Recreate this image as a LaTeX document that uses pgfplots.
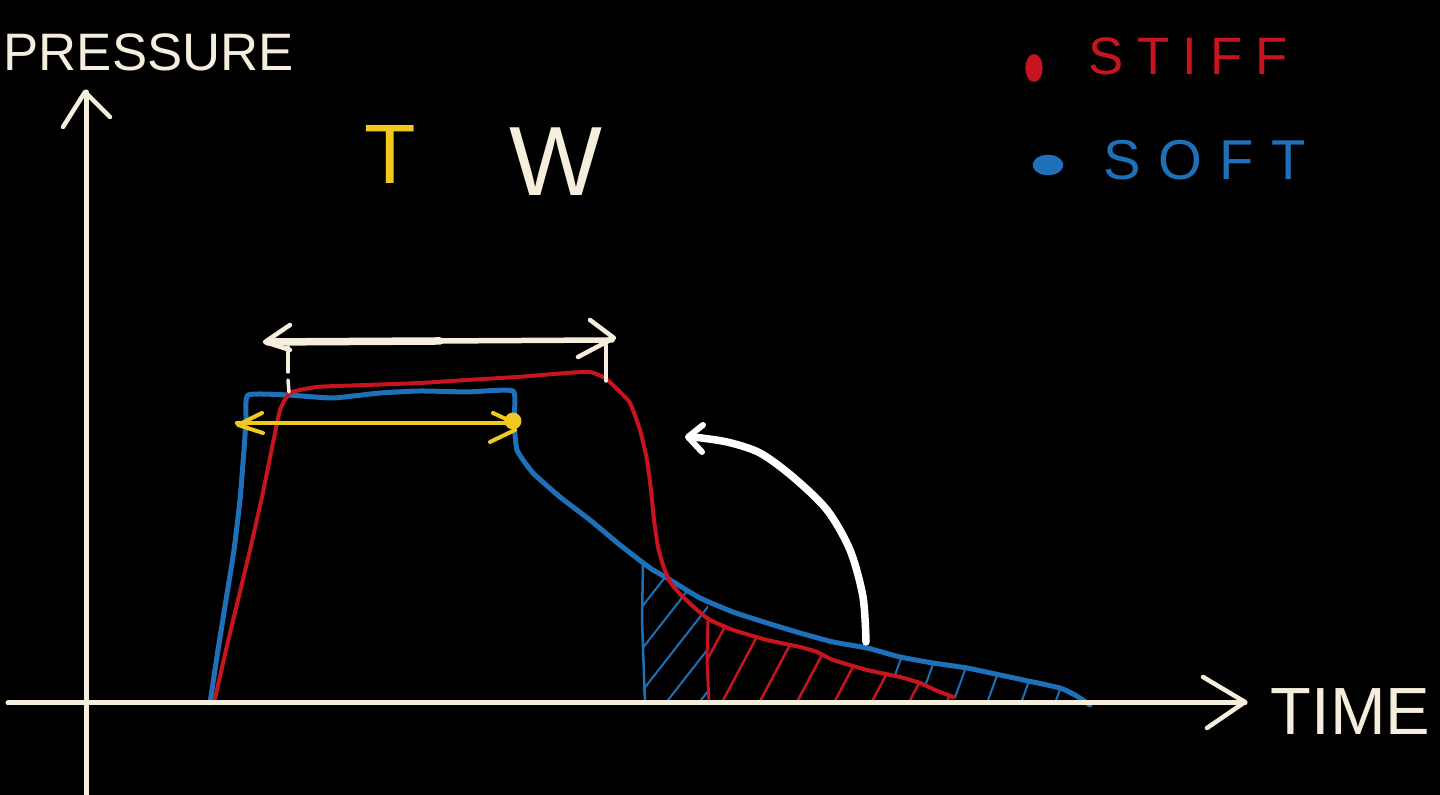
\documentclass[border=0pt]{standalone}
\usepackage{fontspec}
\setmainfont{Liberation Sans}
\usepackage{pgfplots}
\pgfplotsset{compat=1.18}
\usepgfplotslibrary{fillbetween}
\usetikzlibrary{patterns.meta}

\definecolor{cream}{RGB}{245,238,220}
\definecolor{stiffred}{RGB}{200,20,30}
\definecolor{softblue}{RGB}{30,112,185}
\definecolor{yel}{RGB}{240,200,30}

\begin{document}
\begin{tikzpicture}
\begin{axis}[at={(0,0)}, anchor=south west, scale only axis,
    width=14.4cm, height=7.95cm,
    xmin=0, xmax=1440, ymin=0, ymax=795, y dir=reverse,
    axis line style={draw=none}, ticks=none,
    axis background/.style={fill=black},
    clip=false,
    every axis plot/.append style={line cap=round, line join=round}]

% base line for the hatched areas
\addplot[draw=none, name path=base] coordinates {(0,703) (1440,703)};

% soft (blue) curve
\addplot[softblue, line width=0.5mm, smooth, tension=0.3, name path=soft] coordinates {
    (210,703) (218,650) (226,600) (234,550) (240,500) (244,450) (246,420)
    (248,395) (287,395) (333,398) (380,393) (420,391) (467,392) (513,391)
    (514,420) (517,450) (533,473) (560,497) (590,520) (620,545) (650,568)
    (667,578) (700,598) (733,612) (767,623) (800,633) (833,642) (867,648)
    (900,657) (933,663) (967,668) (1000,675) (1033,682) (1060,688)
    (1075,695) (1090,705)};

% stiff (red) curve
\addplot[stiffred, line width=0.4mm, smooth, tension=0.3, name path=stiff] coordinates {
    (214,703) (226,650) (238,600) (250,550) (262,497) (273,443) (280,410)
    (290,393) (317,387) (367,385) (420,383) (467,380) (517,377) (567,373)
    (590,372) (605,378) (618,390) (630,403) (640,430) (647,460) (651,490)
    (654,520) (658,547) (663,565) (670,582) (680,594) (697,610) (710,620)
    (733,630) (767,640) (800,647) (817,652) (833,660) (867,670) (900,677)
    (920,683) (935,690) (953,697)};

\addplot[draw=none, name path=stiffb] coordinates {
    (880,673) (900,677) (920,683) (935,690) (953,697) (962,703) (1100,703)};

% hatched areas
\addplot[pattern={Lines[angle=52,distance=2.6mm,line width=0.2mm]},
    pattern color=softblue] fill between[of=soft and base, soft clip={domain=643:708}];
\addplot[pattern={Lines[angle=62,distance=3.3mm,line width=0.25mm]},
    pattern color=stiffred] fill between[of=stiff and base, soft clip={domain=708:953}];
\addplot[pattern={Lines[angle=70,distance=3.2mm,line width=0.2mm]},
    pattern color=softblue] fill between[of=soft and stiffb, soft clip={domain=880:1088}];

\addplot[softblue, line width=0.25mm] coordinates {(643,565) (642,620) (645,703)};
\addplot[stiffred, line width=0.3mm] coordinates {(708,618) (707,660) (709,703)};

% axes
\addplot[cream, line width=0.5mm] coordinates {(8,703) (1245,703)};
\addplot[cream, line width=0.45mm] coordinates {(1203,677) (1245,702) (1207,728)};
\addplot[cream, line width=0.5mm] coordinates {(86,795) (86,92)};
\addplot[cream, line width=0.45mm] coordinates {(63,127) (85,92) (110,117)};

% white width arrow
\addplot[cream, line width=0.75mm] coordinates {(268,342) (440,341)};
\addplot[cream, line width=0.55mm] coordinates {(440,341) (612,340)};
\addplot[cream, line width=0.45mm] coordinates {(290,325) (265,342) (290,350)};
\addplot[cream, line width=0.45mm] coordinates {(590,320) (614,338) (578,357)};
\addplot[cream, line width=0.35mm] coordinates {(288,347) (288,372)};
\addplot[cream, line width=0.35mm] coordinates {(288,380) (289,392)};
\addplot[cream, line width=0.35mm] coordinates {(606,345) (606,381)};

% yellow arrow
\addplot[yel, line width=0.45mm] coordinates {(237,423) (515,423)};
\addplot[yel, line width=0.4mm] coordinates {(262,413) (238,425) (263,433)};
\addplot[yel, line width=0.4mm] coordinates {(493,413) (508,420) (515,430) (490,442)};
\addplot[only marks, mark=*, mark size=2.2pt, yel] coordinates {(513,421)};

% curved white arrow
\addplot[white, line width=0.75mm, smooth] coordinates {
    (866,642) (863,597) (850,550) (827,510) (793,477) (760,453) (727,442) (693,437)};
\addplot[white, line width=0.6mm] coordinates {(703,425) (688,437) (702,452)};

% legend dots
\addplot[only marks, mark=*, mark size=3pt, stiffred,
    mark options={xscale=0.75, yscale=1.25}] coordinates {(1034,68)};
\addplot[only marks, mark=*, mark size=3.2pt, softblue,
    mark options={xscale=1.3, yscale=0.85, rotate=35}] coordinates {(1048,165)};

% texts
\node[anchor=west, inner sep=0pt, text=cream, font=\fontsize{15}{15}\selectfont]
    at (axis cs:3,52) {PRESSURE};
\node[anchor=west, inner sep=0pt, text=cream, font=\fontsize{19}{19}\selectfont]
    at (axis cs:1270,712) {TIME};
\node[anchor=west, inner sep=0pt, text=stiffred,
    font=\fontsize{15}{15}\selectfont\addfontfeature{LetterSpace=25}]
    at (axis cs:1088,56) {STIFF};
\node[anchor=west, inner sep=0pt, text=softblue,
    font=\fontsize{16}{16}\selectfont\addfontfeature{LetterSpace=31}]
    at (axis cs:1103,160) {SOFT};
\node[anchor=center, inner sep=0pt, text=yel, font=\fontsize{24}{24}\selectfont]
    at (axis cs:390,155) {T};
\node[anchor=center, inner sep=0pt, text=cream, font=\fontsize{28}{28}\selectfont]
    at (axis cs:556,162) {W};
\end{axis}
\pgfresetboundingbox
\path[use as bounding box] (0,0) rectangle (14.4cm,7.95cm);
\end{tikzpicture}
\end{document}
